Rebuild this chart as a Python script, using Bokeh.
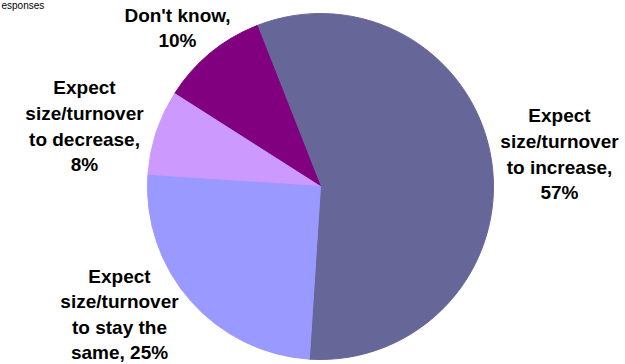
import math
from bokeh.plotting import figure
from bokeh.models import ColumnDataSource, Range1d
from bokeh.core.properties import value
from bokeh.embed import file_html
from bokeh.resources import INLINE

# ---- data ----
categories = ["Expect size/turnover to increase", "Don't know",
              "Expect size/turnover to decrease", "Expect size/turnover to stay the same"]
values = [57, 10, 8, 25]
label_lines = [
    ["Expect", "size/turnover", "to increase,", "57%"],
    ["Don't know,", "10%"],
    ["Expect", "size/turnover", "to decrease,", "8%"],
    ["Expect", "size/turnover", "to stay the", "same, 25%"],
]
header_text = "esponses"

# ---- style / layout ----
colors = ["#666699", "#800080", "#CC99FF", "#9999FF"]
W, H = 625, 364
cx, cy_ref, r = 320, 186, 173
start_deg = -93.7
label_anchor = [(559, 115), (177, 14.5), (84, 87), (119, 276)]  # centre x, first line anchor (px)
line_steps = [25.8, 25.7, 25.8, 25.3]
FONT = "Liberation Sans"

p = figure(width=W, height=H, output_backend="svg", toolbar_location=None,
           x_range=Range1d(0, W), y_range=Range1d(0, H),
           min_border=0, outline_line_color=None)
p.axis.visible = False
p.grid.visible = False
p.background_fill_color = "white"
p.border_fill_color = "white"

total = float(sum(values))
starts, ends = [], []
acc = 0.0
for v in values:
    a0 = math.radians(start_deg + 360.0 * acc / total)
    acc += v
    a1 = math.radians(start_deg + 360.0 * acc / total)
    starts.append(a0)
    ends.append(a1)

cy = H - cy_ref
wsrc = ColumnDataSource(dict(x=[cx] * len(values), y=[cy] * len(values),
                             start=starts, end=ends, color=colors, cat=categories))
p.wedge(x="x", y="y", radius=r, start_angle="start", end_angle="end",
        fill_color="color", line_color="color", line_width=1, source=wsrc,
        direction="anticlock")

xs, ys, ts = [], [], []
for lines, (ax, ay), step in zip(label_lines, label_anchor, line_steps):
    for i, t in enumerate(lines):
        xs.append(ax)
        ys.append(H - (ay + i * step))
        ts.append(t)
tsrc = ColumnDataSource(dict(x=xs, y=ys, text=ts))
p.text(x="x", y="y", text="text", source=tsrc, text_align="center",
       text_baseline="alphabetic", text_font=value(FONT), text_font_style="bold",
       text_font_size="19px", text_color="black")

p.text(x=[1], y=[H - 5], text=[header_text], text_align="left",
       text_baseline="alphabetic", text_font=value(FONT),
       text_font_size="10px", text_color="black")

open("out.html", "w").write(file_html(p, INLINE))
